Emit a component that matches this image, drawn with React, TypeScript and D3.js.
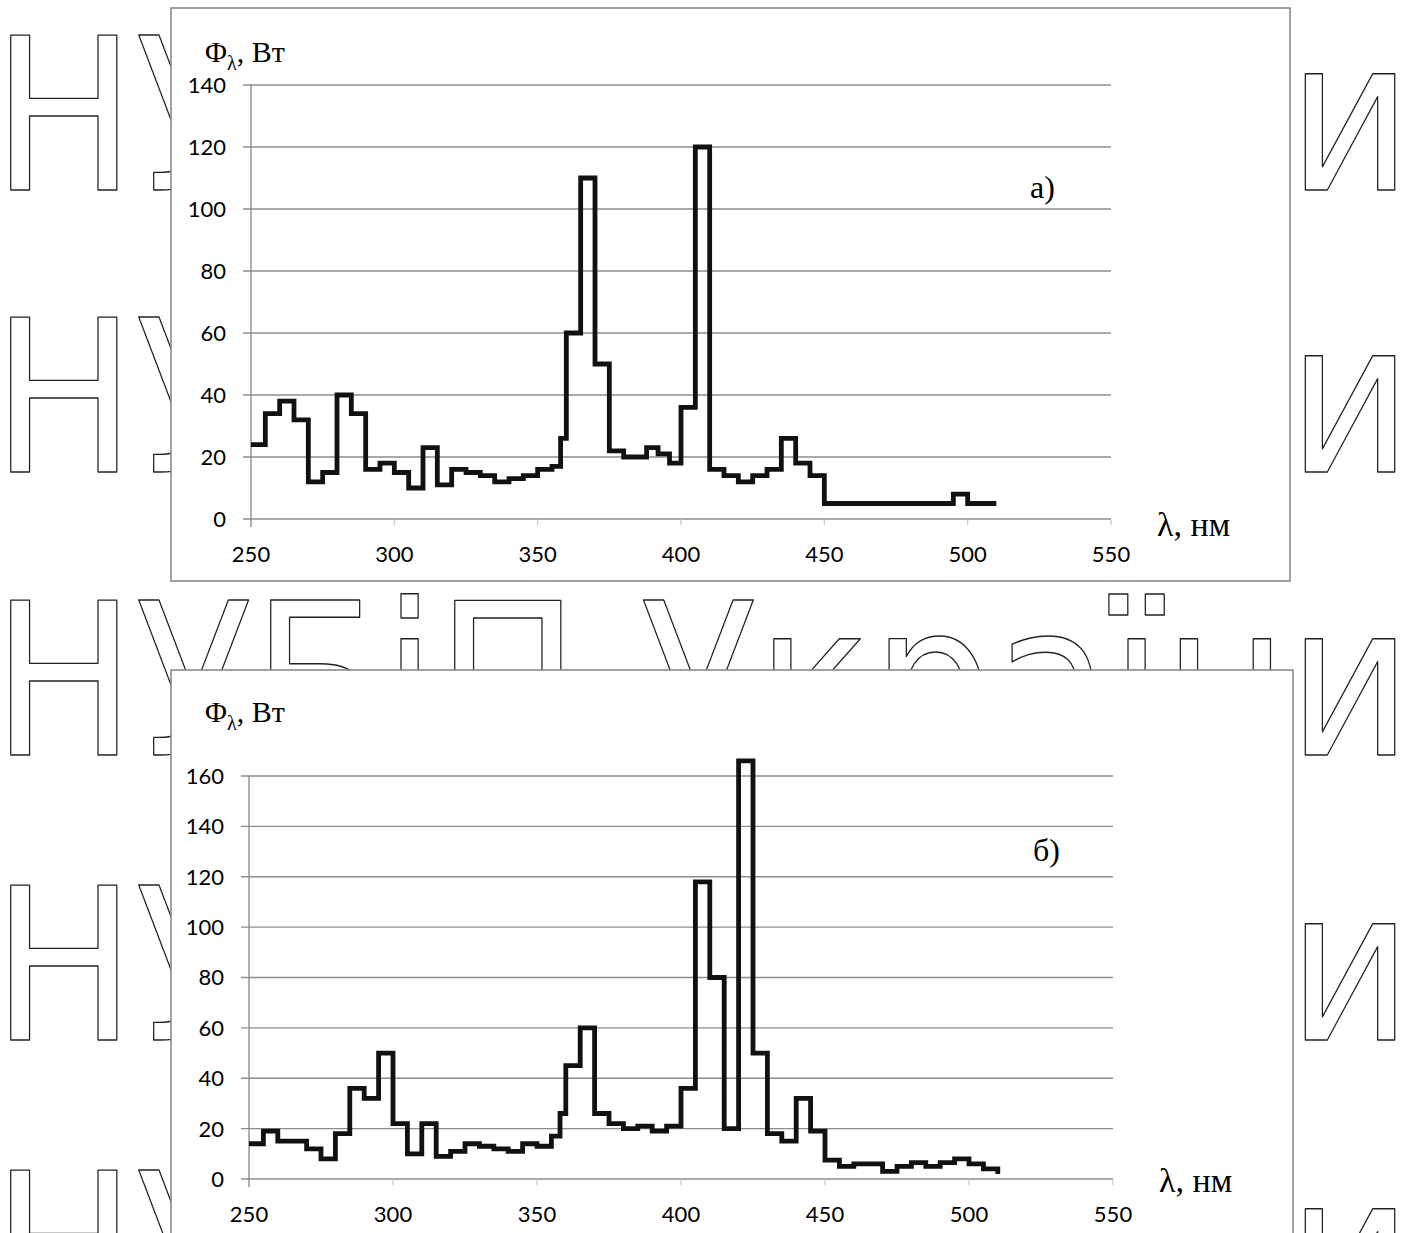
import React from 'react';
import * as d3 from 'd3';

// spectrum a): breakpoints (nm) and flux (W), step after each breakpoint
const lambdaA = [250, 255, 260, 265, 270, 275, 280, 285, 290, 295, 300, 305, 310, 315, 320, 325, 330, 335, 340, 345, 350, 355, 358, 360, 365, 370, 375, 380, 388, 392, 396, 400, 405, 410, 415, 420, 425, 430, 435, 440, 445, 450, 495, 500, 510];
const fluxA = [24, 34, 38, 32, 12, 15, 40, 34, 16, 18, 15, 10, 23, 11, 16, 15, 14, 12, 13, 14, 16, 17, 26, 60, 110, 50, 22, 20, 23, 21, 18, 36, 120, 16, 14, 12, 14, 16, 26, 18, 14, 5, 8, 5, 5];

// spectrum b)
const lambdaB = [250, 255, 260, 270, 275, 280, 285, 290, 295, 300, 305, 310, 315, 320, 325, 330, 335, 340, 345, 350, 355, 358, 360, 365, 370, 375, 380, 385, 390, 395, 400, 405, 410, 415, 420, 425, 430, 435, 440, 445, 450, 455, 460, 470, 475, 480, 485, 490, 495, 500, 505, 510];
const fluxB = [14, 19, 15, 12, 8, 18, 36, 32, 50, 22, 10, 22, 9, 11, 14, 13, 12, 11, 14, 13, 17, 26, 45, 60, 26, 22, 20, 21, 19, 21, 36, 118, 80, 20, 166, 50, 18, 15, 32, 19, 7.5, 5, 6, 3, 5, 6.5, 5, 6.5, 8, 6, 4, 2];

const xTicks = [250, 300, 350, 400, 450, 500, 550];
const yTicksA = [0, 20, 40, 60, 80, 100, 120, 140];
const yTicksB = [0, 20, 40, 60, 80, 100, 120, 140, 160];

const watermark = 'НУБіП України';
const watermarkRows = [190, 472, 755, 1040, 1325];

const GRID = '#8c8c8c';
const TICK_FONT = 'Lato, "Open Sans", sans-serif';
const SERIF = '"Liberation Serif", "DejaVu Serif", serif';

function Chart({ lam, flux, yTicks, box, plot, yLabel, xLabel, tag }) {
  const x = d3.scaleLinear().domain([250, 550]).range([plot.x0, plot.x1]);
  const y = d3.scaleLinear().domain([0, yTicks[yTicks.length - 1]]).range([plot.y0, plot.y1]);

  const pts = lam.map((l, i) => [l, flux[i]]);
  const line = d3.line()
    .x(d => x(d[0]))
    .y(d => y(d[1]))
    .curve(d3.curveStepAfter);

  return (
    <g>
      <rect x={box.x} y={box.y} width={box.w} height={box.h} fill="#fff" stroke="#8a8a8a" strokeWidth={1.6} />

      {/* horizontal grid */}
      {yTicks.map(t => (
        <g key={t}>
          <line x1={x(250) - 8} x2={x(550)} y1={y(t)} y2={y(t)} stroke={GRID} strokeWidth={1.4} />
          <text x={x(250) - 25} y={y(t)} dy="0.36em" textAnchor="end"
            fontFamily={TICK_FONT} fontSize={22} fill="#000">{t}</text>
        </g>
      ))}

      {/* y axis */}
      <line x1={x(250)} x2={x(250)} y1={y.range()[1]} y2={y(0) + 8} stroke={GRID} strokeWidth={1.4} />

      {/* x ticks */}
      {xTicks.map(t => (
        <g key={t}>
          {t > 250 && <line x1={x(t)} x2={x(t)} y1={y(0)} y2={y(0) + 6} stroke="#c8c8c8" strokeWidth={1.2} />}
          <text x={x(t)} y={y(0) + 43} textAnchor="middle" fontFamily={TICK_FONT} fontSize={22} fill="#000">{t}</text>
        </g>
      ))}

      <path d={line(pts)} fill="none" stroke="#111" strokeWidth={4.8} strokeLinejoin="miter" />

      <text x={yLabel.x} y={yLabel.y} fontFamily={SERIF} fontSize={30} fill="#000">
        Φ<tspan fontSize={20} dy={8}>λ</tspan><tspan dy={-8}>, Вт</tspan>
      </text>
      <text x={xLabel.x} y={xLabel.y} fontFamily={SERIF} fontSize={34} fill="#000">λ, нм</text>
      <text x={tag.x} y={tag.y} fontFamily={SERIF} fontSize={32} fill="#000">{tag.text}</text>
    </g>
  );
}

export default function App() {
  return (
    <div>
      <style>{'body{margin:0;background:#fff}'}</style>
      <svg width={1405} height={1233} viewBox="0 0 1405 1233" style={{ display: 'block' }}>
        <rect width={1405} height={1233} fill="#fff" />
        {watermarkRows.map(yb => (
          <text key={yb} x={-8} y={yb} textLength={1420} lengthAdjust="spacingAndGlyphs"
            fontFamily='"DejaVu Sans", sans-serif' fontSize={212}
            fill="#fff" stroke="#222" strokeWidth={1.4} strokeLinejoin="round">{watermark}</text>
        ))}

        <Chart
          lam={lambdaA} flux={fluxA} yTicks={yTicksA}
          box={{ x: 171, y: 8, w: 1119, h: 573 }}
          plot={{ x0: 251, x1: 1111, y0: 519, y1: 85 }}
          yLabel={{ x: 205, y: 62 }}
          xLabel={{ x: 1157, y: 536 }}
          tag={{ x: 1030, y: 198, text: 'а)' }}
        />
        <Chart
          lam={lambdaB} flux={fluxB} yTicks={yTicksB}
          box={{ x: 171, y: 670, w: 1122, h: 590 }}
          plot={{ x0: 249, x1: 1113, y0: 1179, y1: 776 }}
          yLabel={{ x: 205, y: 722 }}
          xLabel={{ x: 1159, y: 1192 }}
          tag={{ x: 1033, y: 861, text: 'б)' }}
        />
      </svg>
    </div>
  );
}
